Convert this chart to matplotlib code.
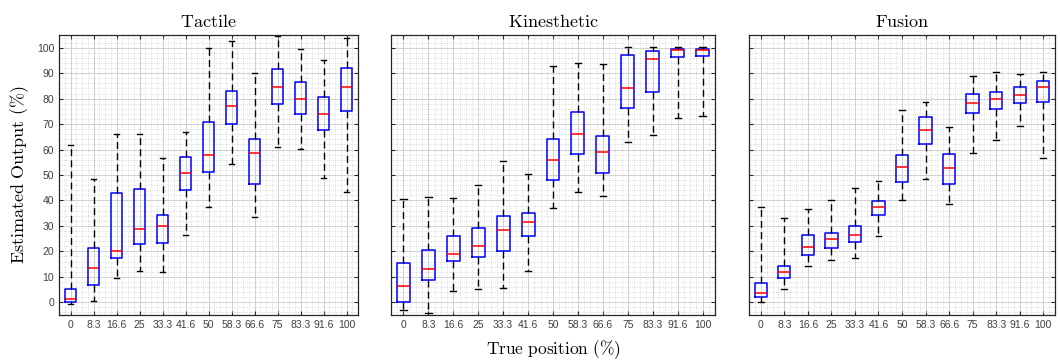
import matplotlib.pyplot as plt
import numpy as np
from matplotlib.ticker import MultipleLocator

plt.rcParams['mathtext.fontset'] = 'cm'

positions = ['0', '8.3', '16.6', '25', '33.3', '41.6', '50', '58.3', '66.6', '75', '83.3', '91.6', '100']

# each row: lower whisker, q1, median, q3, upper whisker
tactile = [
    [-0.5, 0.3, 1.2, 5.1, 61.8],
    [0.4, 6.8, 13.6, 21.5, 48.3],
    [9.6, 17.3, 20.3, 43.0, 66.0],
    [12.4, 23.0, 28.7, 44.6, 66.2],
    [12.0, 23.3, 30.0, 34.2, 56.7],
    [26.3, 44.0, 50.7, 57.1, 66.9],
    [37.6, 51.2, 58.0, 70.9, 99.9],
    [54.2, 70.2, 77.0, 83.0, 102.6],
    [33.6, 46.5, 58.8, 64.0, 90.2],
    [61.1, 78.0, 84.6, 91.8, 104.6],
    [60.2, 74.0, 80.0, 86.6, 99.6],
    [48.7, 67.5, 74.1, 80.8, 95.2],
    [43.2, 75.3, 84.7, 92.0, 103.9],
]
kinesthetic = [
    [-3.1, 0.3, 6.2, 15.4, 40.4],
    [-4.3, 8.8, 13.0, 20.5, 41.2],
    [4.5, 16.1, 19.0, 26.2, 40.8],
    [5.1, 17.8, 22.2, 29.1, 46.0],
    [5.6, 20.3, 28.3, 33.7, 55.4],
    [12.3, 25.9, 31.6, 35.2, 50.4],
    [37.1, 47.9, 55.9, 64.0, 93.0],
    [43.4, 58.4, 66.1, 74.7, 94.1],
    [41.7, 50.8, 59.2, 65.4, 93.7],
    [63.0, 76.4, 84.1, 97.0, 100.1],
    [65.9, 82.7, 95.7, 98.7, 100.3],
    [72.4, 96.3, 99.0, 99.5, 100.1],
    [73.0, 96.6, 99.3, 99.6, 100.3],
]
fusion = [
    [0.3, 2.2, 3.6, 7.4, 37.3],
    [5.4, 9.4, 11.7, 14.4, 33.0],
    [14.1, 18.6, 21.6, 26.5, 36.5],
    [16.5, 21.5, 24.9, 27.2, 40.1],
    [17.3, 23.7, 26.6, 29.8, 45.0],
    [26.0, 34.3, 37.5, 39.7, 47.8],
    [40.0, 47.2, 53.3, 58.0, 75.5],
    [48.5, 62.3, 67.8, 72.6, 78.6],
    [38.8, 46.4, 52.8, 58.3, 68.9],
    [58.6, 74.3, 78.1, 81.7, 88.9],
    [63.7, 76.0, 79.7, 82.6, 90.4],
    [69.3, 78.4, 81.4, 84.7, 89.8],
    [56.6, 78.6, 84.6, 87.1, 90.5],
]

panels = [('Tactile', tactile, [59, 299]),
          ('Kinesthetic', kinesthetic, [391, 324]),
          ('Fusion', fusion, [749, 306])]

fig = plt.figure(figsize=(10.6, 3.63), dpi=100)
W, H = 1060, 363

for i, (name, data, (x0, w)) in enumerate(panels):
    ax = fig.add_axes([x0 / W, 1 - 315 / H, w / W, 280 / H])
    stats = [dict(whislo=d[0], q1=d[1], med=d[2], q3=d[3], whishi=d[4], fliers=[])
             for d in data]
    ax.bxp(stats, positions=np.arange(1, 14), widths=0.52, showfliers=False,
           boxprops=dict(color='#0000ff', linewidth=1.1),
           medianprops=dict(color='#ff0000', linewidth=1.1),
           whiskerprops=dict(color='black', linestyle=(0, (5, 3)), linewidth=1.0),
           capprops=dict(color='black', linewidth=1.0),
           capwidths=0.25)
    ax.set_xlim(0.5, 13.5)
    ax.set_ylim(-5, 105)
    ax.set_xticks(np.arange(1, 14))
    ax.set_xticklabels(positions)
    ax.set_yticks(np.arange(0, 101, 10))
    ax.yaxis.set_minor_locator(MultipleLocator(2))
    ax.xaxis.set_minor_locator(MultipleLocator(0.25))
    ax.grid(which='major', color='#d0d0d0', linewidth=0.7)
    ax.grid(which='minor', color='#d0d0d0', linestyle=':', linewidth=0.6)
    ax.set_axisbelow(True)
    ax.tick_params(which='major', direction='in', top=True, right=True,
                   length=3, labelsize=7.5, labelcolor='#404040', color='#262626')
    ax.tick_params(which='minor', length=0)
    for lab in ax.get_xticklabels() + ax.get_yticklabels():
        lab.set_family('Liberation Sans')
    for s in ax.spines.values():
        s.set_color('#262626')
        s.set_linewidth(0.9)
    ax.set_title(r'$\mathrm{' + name + '}$', fontsize=13, pad=6)
    if i == 0:
        ax.set_ylabel(r'$\mathrm{Estimated\ Output\ (\%)}$', fontsize=13, labelpad=4)
    else:
        ax.set_yticklabels([])

fig.text((391 + 324 / 2) / W, 1 - 350 / H, r'$\mathrm{True\ position\ (\%)}$',
         fontsize=12.5, ha='center', va='center')

fig.savefig('out.png', dpi=100)
